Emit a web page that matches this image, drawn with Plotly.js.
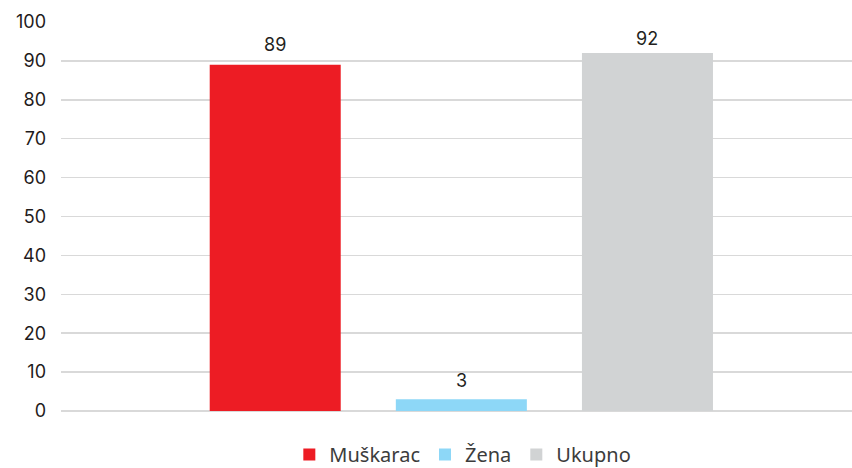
<!DOCTYPE html>
<html>
<head>
<meta charset="utf-8">
<script src="https://cdn.plot.ly/plotly-3.0.1.min.js"></script>
<style>html,body{margin:0;padding:0;background:#fff;}#chart{width:852px;height:468px;}</style>
</head>
<body>
<div id="chart"></div>
<script>
const seriesNames = ['Muškarac', 'Žena', 'Ukupno'];
const seriesValues = [89, 3, 92];
const seriesColors = ['#ed1c24', '#8dd7f7', '#d1d3d4'];
const seriesPositions = [1, 2, 3];
const yTicks = [0, 10, 20, 30, 40, 50, 60, 70, 80, 90, 100];

const traces = seriesNames.map((name, i) => ({
  type: 'bar',
  name: name,
  x: [seriesPositions[i]],
  y: [seriesValues[i]],
  width: 0.704,
  marker: {color: seriesColors[i]},
  hoverinfo: 'none'
}));

const labelShifts = [8, 6, 2];
const annotations = seriesNames.map((name, i) => ({
  x: seriesPositions[i], y: seriesValues[i], xref: 'x', yref: 'y',
  text: String(seriesValues[i]), showarrow: false,
  yanchor: 'bottom', yshift: labelShifts[i],
  font: {family: 'Inter, sans-serif', size: 18, color: '#231f20'}
}));

const layout = {
  width: 852, height: 468,
  margin: {l: 61, r: 0, t: 22, b: 57, autoexpand: false},
  paper_bgcolor: '#fff', plot_bgcolor: '#fff',
  showlegend: true,
  barmode: 'overlay',
  annotations: annotations,
  xaxis: {range: [-0.151, 4.099], showticklabels: false, showgrid: false, zeroline: false, ticks: ''},
  yaxis: {
    range: [0, 100], tickvals: yTicks, ticktext: yTicks.map(String),
    showgrid: true, gridcolor: '#d9d9d9', gridwidth: 1.5,
    zeroline: true, zerolinecolor: '#d9d9d9', zerolinewidth: 1.5,
    tickfont: {family: 'Inter, sans-serif', size: 18, color: '#1f1b1c'},
    ticks: '', ticklabelstandoff: 14
  },
  legend: {
    orientation: 'h', x: 0.508, xanchor: 'center', y: -0.112, yanchor: 'middle',
    font: {family: 'Noto Sans, sans-serif', size: 20, color: '#3c3c3c'},
    itemwidth: 30, tracegroupgap: 0
  }
};

Plotly.newPlot('chart', traces, layout, {displayModeBar: false, staticPlot: true});
</script>
</body>
</html>
